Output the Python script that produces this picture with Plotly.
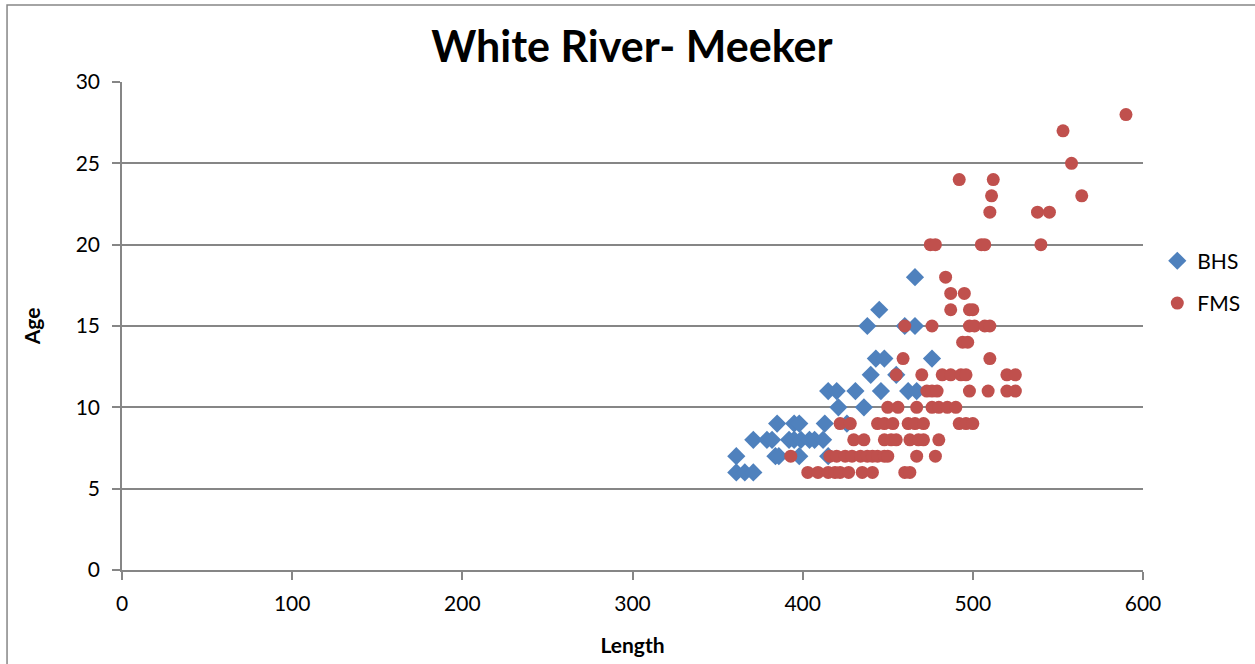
import plotly.graph_objects as go

# BHS data (Length, Age)
bhs_length = [361, 366, 371,
              361, 384, 386, 398, 415,
              371, 379, 382, 392, 395, 399, 404, 407, 412,
              385, 395, 398, 413, 426,
              421, 436,
              415, 420, 431, 446, 462, 467,
              440, 455,
              443, 448, 476,
              438, 460, 466,
              445,
              466]
bhs_age = [6, 6, 6,
           7, 7, 7, 7, 7,
           8, 8, 8, 8, 8, 8, 8, 8, 8,
           9, 9, 9, 9, 9,
           10, 10,
           11, 11, 11, 11, 11, 11,
           12, 12,
           13, 13, 13,
           15, 15, 15,
           16,
           18]

# FMS data (Length, Age)
fms_length = [403, 409, 415, 419, 422, 427, 435, 441, 460, 463,
              393, 416, 420, 425, 429, 434, 438, 441, 444, 448, 450, 467, 478,
              430, 436, 448, 452, 455, 463, 468, 471, 480,
              422, 428, 444, 448, 453, 462, 466, 471, 492, 496, 500,
              450, 456, 467, 476, 480, 485, 490,
              473, 476, 479, 498, 509, 520, 525,
              455, 470, 482, 487, 493, 496, 520, 525,
              459, 510,
              494, 497,
              460, 476, 498, 501, 507, 510,
              487, 498, 500,
              487, 495,
              484,
              475, 478, 505, 507, 540,
              510, 538, 545,
              511, 564,
              492, 512,
              558,
              553,
              590]
fms_age = [6] * 10 + [7] * 13 + [8] * 9 + [9] * 11 + [10] * 7 + [11] * 7 + \
          [12] * 8 + [13] * 2 + [14] * 2 + [15] * 6 + [16] * 3 + [17] * 2 + \
          [18] + [20] * 5 + [22] * 3 + [23] * 2 + [24] * 2 + [25] + [27] + [28]

x_ticks = [0, 100, 200, 300, 400, 500, 600]
y_ticks = [0, 5, 10, 15, 20, 25, 30]

FONT = "Lato"
GRID = "#868686"

fig = go.Figure()
fig.add_trace(go.Scatter(
    x=bhs_length, y=bhs_age, mode="markers", name="BHS", legendgroup="bhs",
    marker=dict(symbol="diamond", size=14, color="#4F81BD",
                line=dict(width=0))))
fig.add_trace(go.Scatter(
    x=fms_length, y=fms_age, mode="markers", name="FMS", legendgroup="fms",
    marker=dict(symbol="circle", size=13, color="#C0504D",
                line=dict(width=0))))

fig.update_layout(
    width=1255, height=664,
    paper_bgcolor="white", plot_bgcolor="white",
    margin=dict(l=122, r=112, t=82, b=94, autoexpand=False),
    font=dict(family=FONT, size=21, color="black"),
    title=dict(text="<b>White River- Meeker</b>", x=0.5035, xanchor="center",
               y=0.929, yanchor="middle",
               font=dict(family=FONT, size=43, color="black")),
    showlegend=True,
    legend=dict(x=1.014, xanchor="left", y=0.675, yanchor="top",
                font=dict(family=FONT, size=21, color="black"),
                itemsizing="trace", tracegroupgap=12, itemwidth=30,
                bgcolor="rgba(0,0,0,0)"),
    shapes=[dict(type="rect", xref="paper", yref="paper",
                 x0=-0.1126, x1=1.15, y0=-0.25, y1=1.1578,
                 line=dict(color=GRID, width=1.5), layer="below")],
)

fig.update_xaxes(
    range=[0, 600], tickvals=x_ticks, ticktext=[str(v) for v in x_ticks],
    showgrid=False, zeroline=False,
    showline=True, linecolor=GRID, linewidth=1.5,
    ticks="outside", ticklen=8, tickcolor=GRID, tickwidth=1.5,
    ticklabelstandoff=6,
    tickfont=dict(family=FONT, size=21, color="black"),
    title=dict(text="<b>Length</b>", standoff=24,
               font=dict(family=FONT, size=21, color="black")))
fig.update_yaxes(
    range=[0, 30], tickvals=y_ticks, ticktext=[str(v) for v in y_ticks],
    showgrid=True, gridcolor=GRID, gridwidth=1.5,
    zeroline=False,
    showline=True, linecolor=GRID, linewidth=1.5,
    ticks="outside", ticklen=8, tickcolor=GRID, tickwidth=1.5,
    ticklabelstandoff=8,
    tickfont=dict(family=FONT, size=21, color="black"),
    title=dict(text="<b>Age</b>", standoff=29,
               font=dict(family=FONT, size=21, color="black")))

fig.write_html("out.html")
